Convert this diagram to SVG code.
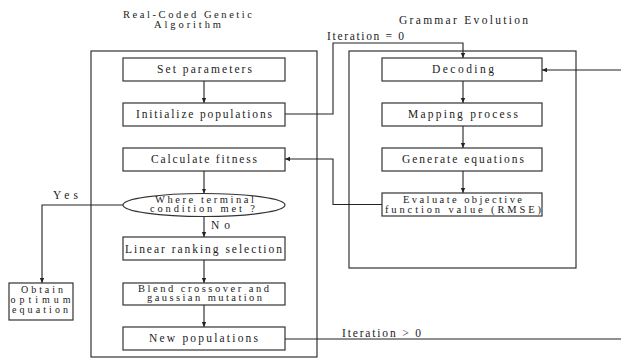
<svg xmlns="http://www.w3.org/2000/svg" width="621" height="363" viewBox="0 0 621 363">
<defs>
<marker id="ah" markerWidth="6" markerHeight="6" refX="5" refY="3" orient="auto" markerUnits="userSpaceOnUse">
<path d="M0,0.8 L5,3 L0,5.2 Z" fill="#222"/>
</marker>
<style>
text{font-family:"Liberation Serif","Times New Roman",serif;font-size:11.5px;fill:#222;text-anchor:start}
.sm{font-size:10.5px}
.xs{font-size:10px}
.box{fill:#fff;stroke:#333;stroke-width:1.2}
.cont{fill:none;stroke:#333;stroke-width:1.2}
.ln{fill:none;stroke:#222;stroke-width:1.1}
.ar{marker-end:url(#ah)}
</style>
</defs>
<rect width="621" height="363" fill="#fff"/>
<g id="titles">
<text class="sm" x="123" y="17.5" textLength="129" lengthAdjust="spacing">Real-Coded Genetic</text>
<text class="sm" x="154" y="27.5" textLength="67" lengthAdjust="spacing">Algorithm</text>
<text x="399" y="24" textLength="129" lengthAdjust="spacing">Grammar Evolution</text>
</g>
<g id="containers">
<rect class="cont" x="91" y="51" width="226" height="306"/>
<rect class="cont" x="349" y="51" width="227" height="217"/>
</g>
<g id="connectors">
<path class="ln ar" d="M204,81 V103"/>
<path class="ln ar" d="M204,171 V193.5"/>
<path class="ln ar" d="M204,216.5 V237"/>
<path class="ln ar" d="M204,260 V283"/>
<path class="ln ar" d="M204,305 V327"/>
<path class="ln ar" d="M463,81 V103"/>
<path class="ln ar" d="M463,126 V148"/>
<path class="ln ar" d="M463,171 V193"/>
<path class="ln ar" d="M285,114 H333 V43 H463 V58"/>
<path class="ln ar" d="M382,204.5 H333 V159 H285"/>
<path class="ln ar" d="M123,205 H42 V283"/>
<path class="ln" d="M285,339 H621"/>
<path class="ln ar" d="M621,70 H542"/>
<text x="327" y="40" textLength="77" lengthAdjust="spacing">Iteration = 0</text>
<text x="342" y="337" textLength="79" lengthAdjust="spacing">Iteration &gt; 0</text>
<text x="53" y="199" textLength="25" lengthAdjust="spacing">Yes</text>
<text x="211" y="228.5" textLength="19" lengthAdjust="spacing">No</text>
</g>
<g id="set-parameters">
<rect class="box" x="123" y="58" width="162" height="23"/>
<text x="157" y="72.5" textLength="95" lengthAdjust="spacing">Set parameters</text>
</g>
<g id="initialize-populations">
<rect class="box" x="123" y="103" width="162" height="23"/>
<text x="136" y="117.5" textLength="136" lengthAdjust="spacing">Initialize populations</text>
</g>
<g id="calculate-fitness">
<rect class="box" x="123" y="148" width="162" height="23"/>
<text x="151" y="162.5" textLength="106" lengthAdjust="spacing">Calculate fitness</text>
</g>
<g id="terminal-condition">
<ellipse class="box" cx="204" cy="205" rx="81" ry="11.5"/>
<text class="sm" x="155" y="202.5" textLength="99" lengthAdjust="spacing">Where terminal</text>
<text class="sm" x="150" y="212" textLength="105" lengthAdjust="spacing">condition met ?</text>
</g>
<g id="linear-ranking">
<rect class="box" x="123" y="237" width="162" height="23"/>
<text x="125" y="252.5" textLength="157" lengthAdjust="spacing">Linear ranking selection</text>
</g>
<g id="blend-crossover">
<rect class="box" x="123" y="283" width="162" height="22"/>
<text class="sm" x="138" y="291.5" textLength="131" lengthAdjust="spacing">Blend crossover and</text>
<text class="sm" x="147" y="301" textLength="115" lengthAdjust="spacing">gaussian mutation</text>
</g>
<g id="new-populations">
<rect class="box" x="123" y="327" width="162" height="23"/>
<text x="149" y="342" textLength="109" lengthAdjust="spacing">New populations</text>
</g>
<g id="obtain-equation">
<rect class="box" x="9" y="283" width="64" height="37"/>
<text class="xs" x="21" y="293" textLength="42" lengthAdjust="spacing">Obtain</text>
<text class="xs" x="10.5" y="303" textLength="60" lengthAdjust="spacing">optimum</text>
<text class="xs" x="12" y="313" textLength="56" lengthAdjust="spacing">equation</text>
</g>
<g id="decoding">
<rect class="box" x="382" y="58" width="160" height="23"/>
<text x="432" y="73" textLength="62" lengthAdjust="spacing">Decoding</text>
</g>
<g id="mapping-process">
<rect class="box" x="382" y="103" width="160" height="23"/>
<text x="408" y="117.5" textLength="110" lengthAdjust="spacing">Mapping process</text>
</g>
<g id="generate-equations">
<rect class="box" x="382" y="148" width="160" height="23"/>
<text x="402" y="162.5" textLength="122" lengthAdjust="spacing">Generate equations</text>
</g>
<g id="evaluate-rmse">
<rect class="box" x="382" y="193" width="160" height="23"/>
<text class="sm" x="403" y="203" textLength="119" lengthAdjust="spacing">Evaluate objective</text>
<text class="sm" x="385" y="212.5" textLength="156" lengthAdjust="spacing">function value (RMSE)</text>
</g>
</svg>
